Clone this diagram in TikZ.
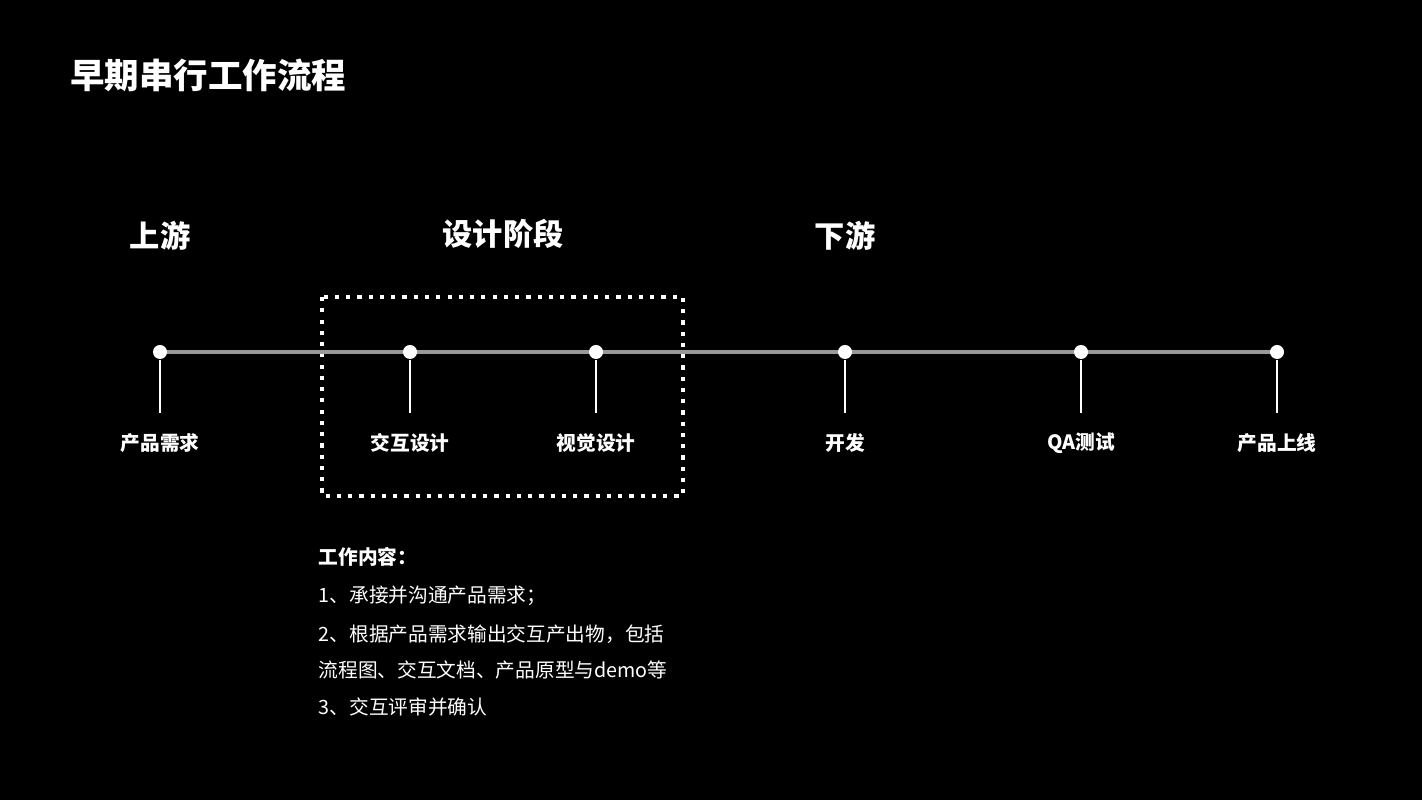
\documentclass[tikz,border=0pt]{standalone}
\usepackage{fontspec}
\setmainfont{Noto Sans CJK SC}
\newfontfamily\cjkbold{Noto Sans CJK SC Bold}
\usetikzlibrary{positioning}
\tikzset{
  stage/.style={font=\fontsize{5.6}{7}\selectfont\bfseries, text=white},
  phase/.style={font=\fontsize{8.6}{10}\selectfont\bfseries, text=white},
  bodyline/.style={font=\fontsize{5.6}{7}\selectfont, text=white, anchor=west, inner sep=0pt},
  dot/.style={circle, fill=white, inner sep=0pt, minimum size=0.14cm},
}
\begin{document}
\begin{tikzpicture}[x=0.01cm,y=0.01cm]
    % background
    \fill[black] (0,0) rectangle (1422,800);
    \useasboundingbox (0,0) rectangle (1422,800);

    % title
    \node[anchor=west, text=white, font=\fontsize{9.8}{11}\selectfont\bfseries] (title) at (58,725) {早期串行工作流程};

    % phase headers
    \node[phase] (up) at (160,564) {上游};
    \node[phase] (design) at (503,566) {设计阶段};
    \node[phase] (down) at (845,564) {下游};

    % dotted frame
    \draw[white, dotted, line width=1.2pt] (322,503) rectangle (683,304);

    % timeline
    \draw[gray!80, line width=1.2pt] (160,448) -- (1277,448);

    % stages
    \foreach \x/\name/\lab in {160/s1/产品需求, 410/s2/交互设计, 596/s3/视觉设计, 845/s4/开发, 1081/s5/QA测试, 1277/s6/产品上线}{
        \node[dot] (\name) at (\x,448) {};
        \coordinate (\name b) at (\x,387);
        \draw[white, line width=0.8pt] (\name) -- (\name b);
        \node[stage] (\name l) at (\x,357) {\lab};
    }

    % work content
    \node[bodyline, font=\fontsize{5.6}{7}\selectfont\bfseries] (w0) at (318,243) {工作内容：};
    \node[bodyline] (w1) at (318,204) {1、承接并沟通产品需求；};
    \node[bodyline] (w2) at (318,166) {2、根据产品需求输出交互产出物，包括};
    \node[bodyline] (w3) at (318,130) {流程图、交互文档、产品原型与demo等};
    \node[bodyline] (w4) at (318,93) {3、交互评审并确认};
\end{tikzpicture}
\end{document}
